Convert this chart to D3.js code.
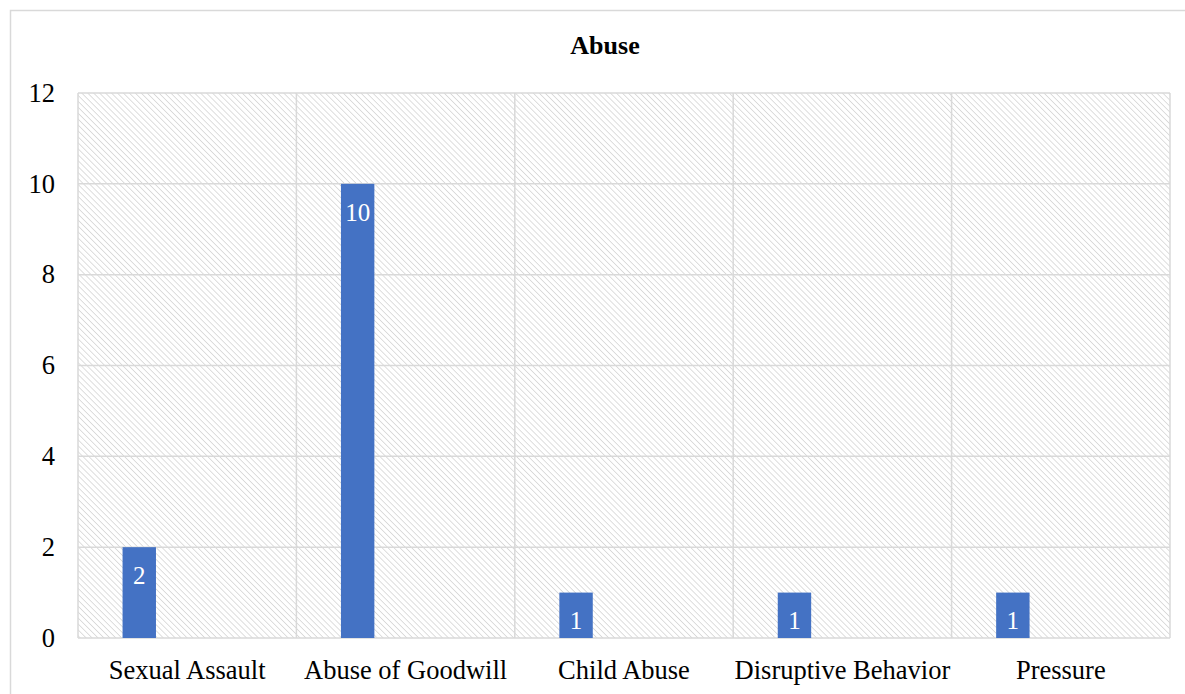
<!DOCTYPE html>
<html>
<head>
<meta charset="utf-8">
<script src="https://cdn.jsdelivr.net/npm/d3@7"></script>
<style>
  body { margin: 0; background: #fff; }
  svg { display: block; }
  svg text { font-family: "Liberation Serif", "Times New Roman", serif; }
</style>
</head>
<body>
<div id="chart"></div>
<script>
var categories = ["Sexual Assault", "Abuse of Goodwill", "Child Abuse", "Disruptive Behavior", "Pressure"];
var values = [2, 10, 1, 1, 1];
var yTicks = [0, 2, 4, 6, 8, 10, 12];
var title = "Abuse";

var width = 1185, height = 694;
var margin = {top: 93, right: 15, bottom: 56, left: 78};

var svg = d3.select("#chart").append("svg")
    .attr("width", width)
    .attr("height", height);

// hatch fill for the plot area
var defs = svg.append("defs");
var pat = defs.append("pattern")
    .attr("id", "hatch")
    .attr("patternUnits", "userSpaceOnUse")
    .attr("width", 4.2)
    .attr("height", 4.2)
    .attr("patternTransform", "rotate(-45)");
pat.append("rect").attr("width", 4.2).attr("height", 4.2).attr("fill", "#fff");
pat.append("line")
    .attr("x1", 0).attr("y1", 0).attr("x2", 0).attr("y2", 4.2)
    .attr("stroke", "#d6d6d6")
    .attr("stroke-width", 1.6);

// chart border
svg.append("rect")
    .attr("x", 10.5).attr("y", 10.5)
    .attr("width", width + 20).attr("height", height + 20)
    .attr("fill", "none")
    .attr("stroke", "#d9d9d9")
    .attr("stroke-width", 1.5);

svg.append("text")
    .attr("x", 605)
    .attr("y", 54)
    .attr("text-anchor", "middle")
    .attr("font-size", 26)
    .attr("font-weight", "bold")
    .text(title);

var x = d3.scaleBand()
    .domain(categories)
    .range([margin.left, width - margin.right]);

var y = d3.scaleLinear()
    .domain([0, 12])
    .range([height - margin.bottom, margin.top]);

var g = svg.append("g");

g.append("rect")
    .attr("x", margin.left)
    .attr("y", margin.top)
    .attr("width", x.range()[1] - margin.left)
    .attr("height", y(0) - margin.top)
    .attr("fill", "url(#hatch)");

// horizontal gridlines
g.selectAll(".hgrid").data(yTicks).enter().append("line")
    .attr("class", "hgrid")
    .attr("x1", margin.left).attr("x2", x.range()[1])
    .attr("y1", function(d) { return y(d); })
    .attr("y2", function(d) { return y(d); })
    .attr("stroke", "#d9d9d9")
    .attr("stroke-width", 1.5);

// vertical gridlines at category edges
var edges = categories.map(function(c) { return x(c); }).concat([x.range()[1]]);
g.selectAll(".vgrid").data(edges).enter().append("line")
    .attr("class", "vgrid")
    .attr("x1", function(d) { return d; })
    .attr("x2", function(d) { return d; })
    .attr("y1", margin.top).attr("y2", y(0))
    .attr("stroke", "#d9d9d9")
    .attr("stroke-width", 1.5);

// y tick labels
g.selectAll(".ytick").data(yTicks).enter().append("text")
    .attr("class", "ytick")
    .attr("x", 55)
    .attr("y", function(d) { return y(d); })
    .attr("dy", "0.33em")
    .attr("text-anchor", "end")
    .attr("font-size", 26.5)
    .text(function(d) { return d; });

// x category labels
g.selectAll(".xtick").data(categories).enter().append("text")
    .attr("class", "xtick")
    .attr("x", function(d) { return x(d) + x.bandwidth() / 2; })
    .attr("y", 679)
    .attr("text-anchor", "middle")
    .attr("font-size", 26.5)
    .text(function(d) { return d; });

// bars sit in the first slot of the category (clustered layout)
var barOff = x.bandwidth() * 0.204;
var barW = x.bandwidth() * 0.153;

var data = categories.map(function(c, i) { return {cat: c, v: values[i]}; });

g.selectAll(".bar").data(data).enter().append("rect")
    .attr("class", "bar")
    .attr("x", function(d) { return x(d.cat) + barOff; })
    .attr("y", function(d) { return y(d.v); })
    .attr("width", barW)
    .attr("height", function(d) { return y(0) - y(d.v); })
    .attr("fill", "#4472c4");

g.selectAll(".lbl").data(data).enter().append("text")
    .attr("class", "lbl")
    .attr("x", function(d) { return x(d.cat) + barOff + barW / 2; })
    .attr("y", function(d) {
      var top = y(d.v), mid = (y(d.v) + y(0)) / 2;
      return Math.min(top + 37, Math.max(mid + 7, y(0) - 9));
    })
    .attr("text-anchor", "middle")
    .attr("font-size", 25)
    .attr("fill", "#fff")
    .text(function(d) { return d.v; });
</script>
</body>
</html>
